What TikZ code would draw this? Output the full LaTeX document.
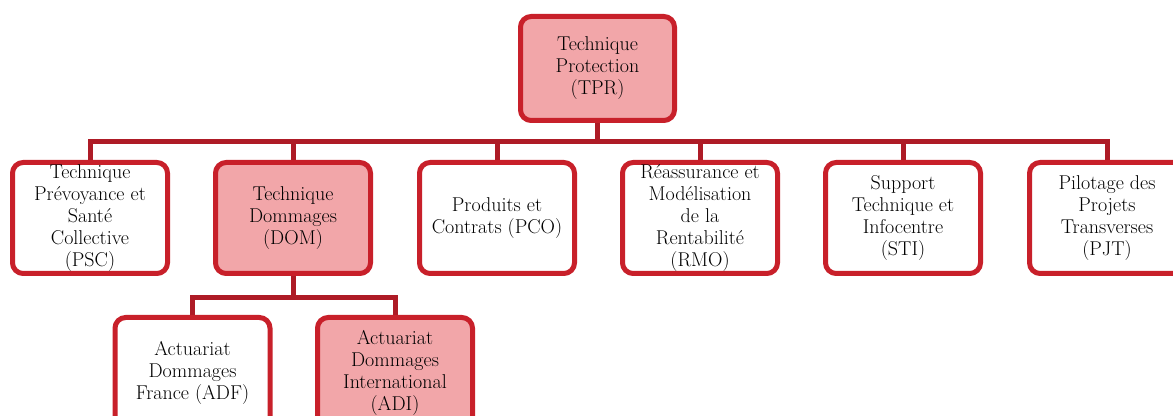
\documentclass[tikz,border=0pt]{standalone}
\usetikzlibrary{backgrounds}
\definecolor{boxred}{HTML}{C8202A}
\definecolor{linkred}{HTML}{AE1B26}
\definecolor{boxpink}{HTML}{F2A6A9}
\tikzset{
  unit/.style={rectangle, draw=boxred, line width=3.75pt, rounded corners=8pt,
    align=center, inner sep=0pt, font=\rmfamily\fontsize{15pt}{16.5pt}\selectfont,
    minimum width=116.25pt, minimum height=83.25pt, fill=white},
  keyunit/.style={unit, fill=boxpink},
  link/.style={draw=linkred, line width=3.75pt}
}
\begin{document}
\begin{tikzpicture}[x=0.75pt, y=-0.75pt]
  \useasboundingbox (0,0) rectangle (1173,416);
  \clip (0,0) rectangle (1173,416);

  % head of the department
  \node[keyunit, minimum width=115.5pt, minimum height=78pt] (tpr) at (597.5,68.5)
    {Technique\\Protection\\(TPR)};

  % first level
  \node[unit]    (psc) at (90,218)   {Technique\\Prévoyance et\\Santé\\Collective\\(PSC)};
  \node[keyunit] (dom) at (293,218)  {Technique\\Dommages\\(DOM)};
  \node[unit]    (pco) at (497,218)  {Produits et\\Contrats (PCO)};
  \node[unit]    (rmo) at (700,218)  {Réassurance et\\Modélisation\\de la\\Rentabilité\\(RMO)};
  \node[unit]    (sti) at (903,218)  {Support\\Technique et\\Infocentre\\(STI)};
  \node[unit]    (pjt) at (1107,218) {Pilotage des\\Projets\\Transverses\\(PJT)};

  % second level under DOM
  \node[unit]    (adf) at (192.5,373) {Actuariat\\Dommages\\France (ADF)};
  \node[keyunit] (adi) at (395,373)   {Actuariat\\Dommages\\International\\(ADI)};

  \coordinate (bus) at (597.5,142);
  \coordinate (subbus) at (293,298);

  \begin{scope}[on background layer]
    \draw[link] (tpr.south) -- (bus);
    \foreach \n in {psc,dom,pco,rmo,sti,pjt}
      \draw[link] (bus) -| (\n.north);
    \draw[link] (dom.south) -- (subbus);
    \foreach \n in {adf,adi}
      \draw[link] (subbus) -| (\n.north);
  \end{scope}
\end{tikzpicture}
\end{document}
